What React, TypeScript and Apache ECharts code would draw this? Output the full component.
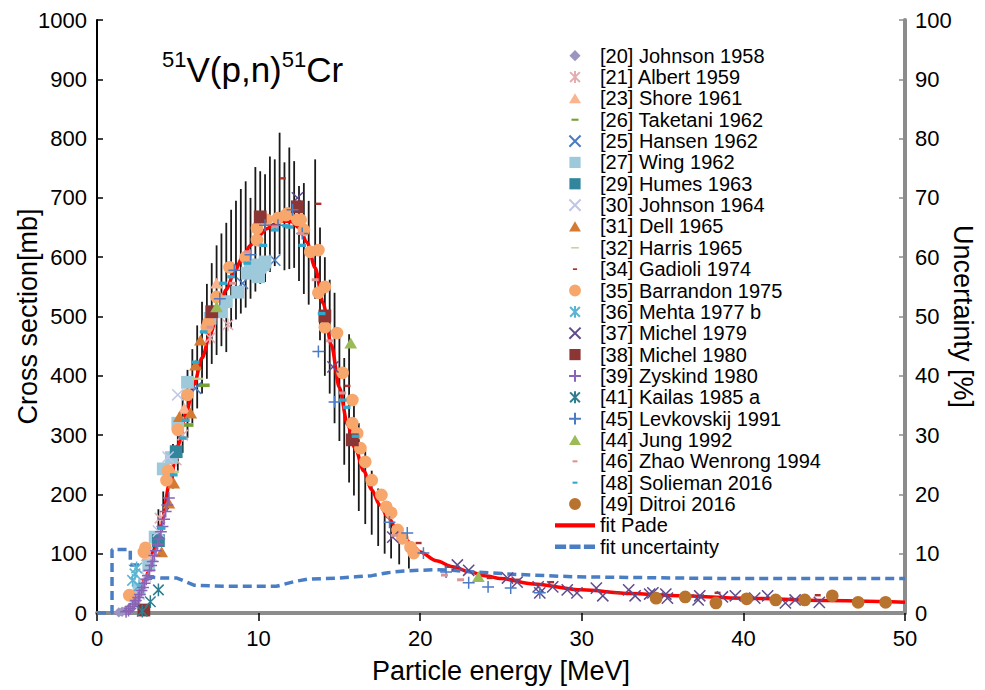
import React, { useEffect, useRef } from "react";
import * as echarts from "echarts";

const FONT = "'Liberation Sans', Arial, Helvetica, sans-serif";

// ---- data (energy MeV, cross section mb) ----
const johnson1958 = [[1.35, 1], [1.55, 2], [1.75, 4], [1.95, 7], [2.15, 12], [2.4, 19]];
const albert1959 = [[3.9, 160], [4.9, 258], [5.3, 300], [7.0, 464], [8.1, 486]];
const shore1961 = [[3.1, 96], [5.4, 345], [7.4, 556]];
const taketani1962 = [[5.6, 317], [6.6, 384]];
const hansen1962 = [[6.1, 379], [9.0, 556], [11.0, 595]];
const wing1962 = [[2.6, 40], [3.2, 80], [3.6, 128], [4.1, 243], [4.6, 262], [5.0, 320], [5.6, 389], [7.0, 497], [7.7, 508], [8.0, 525], [8.7, 541], [9.3, 573], [9.5, 587], [9.9, 573], [10.0, 567], [10.1, 583], [10.3, 587], [10.4, 592]];
const humes1963 = [[3.8, 122], [4.9, 272]];
const johnson1964 = [[2.2, 15], [2.6, 32], [3.0, 62], [3.4, 96], [3.8, 138], [4.4, 263], [5.0, 368]];
const dell1965 = [[4.0, 103], [4.45, 185], [4.75, 219], [5.1, 331], [5.8, 337], [6.1, 418], [6.4, 460]];
const harris1965 = [[4.7, 238], [6.2, 395]];
const gadioli1974 = [[11.5, 733], [13.7, 690], [15.5, 383], [19.9, 118], [21.7, 78], [24.3, 59], [26.0, 56], [28.1, 52], [32.2, 34], [38.4, 34], [44.6, 30]];
const barrandon1975 = [[2.0, 30], [2.9, 103], [3.0, 110], [4.3, 224], [4.4, 240], [5.0, 309], [5.6, 368], [6.8, 482], [6.9, 490], [7.4, 533], [8.2, 583], [9.2, 600], [9.9, 649], [9.9, 629], [10.5, 663], [11.2, 666], [11.7, 671], [11.8, 674], [12.4, 663], [12.6, 663], [12.8, 646], [13.2, 609], [13.7, 612], [13.7, 540], [14.1, 550], [14.1, 482], [14.85, 472], [15.2, 405], [15.8, 359], [15.8, 320], [16.1, 303], [16.3, 278], [16.6, 255], [17.0, 224], [17.6, 199], [17.9, 179], [18.2, 169], [18.6, 140], [18.9, 126], [19.4, 111], [19.6, 101]];
const mehta1977 = [[2.2, 55], [2.35, 66], [2.45, 76], [2.6, 46]];
const michel1979 = [[12.4, 700], [14.6, 415], [18.3, 128], [22.3, 81], [23.0, 72], [25.4, 59], [26.0, 52], [27.3, 44], [27.4, 34], [28.2, 44], [29.1, 39], [29.7, 34], [30.9, 42], [31.3, 29], [32.9, 39], [33.3, 29], [34.2, 32], [34.4, 34], [35.2, 32], [35.3, 25], [37.2, 22], [37.3, 29], [38.7, 27], [39.5, 29], [40.7, 25], [41.5, 29], [42.6, 17], [43.2, 22], [44.7, 18]];
const michel1980 = [[2.9, 5], [7.1, 508], [10.1, 668], [12.4, 685], [14.1, 501], [15.8, 292]];
const zyskind1980 = [[1.8, 2], [1.95, 4], [2.05, 7], [2.2, 11], [2.3, 15], [2.4, 21], [2.55, 26], [2.65, 31], [2.75, 38], [2.85, 43], [2.95, 50], [3.05, 57], [3.15, 63], [3.25, 72], [3.35, 80], [3.45, 87], [3.55, 97], [3.65, 105], [3.75, 116], [3.85, 125], [3.95, 137], [4.05, 146], [4.15, 158], [4.25, 171], [4.35, 182], [4.45, 194]];
const kailas1985 = [[2.8, 3], [3.3, 19], [3.8, 39]];
const levkovskij1991 = [[7.6, 530], [8.5, 578], [9.5, 604], [10.4, 654], [11.2, 654], [12.1, 680], [12.7, 640], [13.7, 441], [14.7, 356], [18.1, 153], [19.2, 135], [20.2, 101], [21.6, 69], [23.0, 51], [24.2, 44], [25.6, 42], [27.4, 34]];
const jung1992 = [[7.4, 516], [15.7, 455], [23.6, 61]];
const zhao1994 = [[5.4, 295], [7.0, 482], [8.4, 556], [9.3, 609], [10.2, 620], [11.0, 651], [11.9, 651], [12.6, 640], [13.5, 562], [14.4, 459], [15.2, 371], [18.4, 131], [21.5, 64], [22.5, 56]];
const solieman2016 = [[4.0, 143], [4.75, 233], [5.3, 295], [5.5, 325], [6.1, 423], [6.6, 474], [7.8, 556], [8.3, 567], [9.3, 590], [10.3, 620], [11.0, 646], [11.7, 653], [11.9, 651], [12.7, 620], [13.9, 505], [15.2, 359], [15.45, 347], [16.0, 298]];
const ditroi2016 = [[34.6, 25], [36.4, 27], [38.3, 17], [40.2, 24], [42.0, 22], [43.8, 22], [45.5, 29], [47.1, 18], [48.8, 18]];

// error bars: [energy, low, high]
const errorBars = [
  [3.5, 95, 135], [3.8, 125, 175], [4.1, 150, 205], [4.4, 175, 245], [4.7, 210, 285], [5.0, 240, 330], [5.3, 270, 370], [5.6, 295, 410], [5.9, 320, 445], [6.2, 345, 485], [6.5, 370, 525], [6.8, 395, 555], [7.1, 420, 590], [7.4, 435, 620], [7.7, 450, 640], [8.0, 440, 658], [8.3, 480, 680], [8.6, 495, 695], [8.9, 505, 715], [9.2, 515, 728], [9.5, 530, 700], [9.8, 542, 752], [10.1, 555, 745], [10.4, 558, 740], [10.7, 575, 770], [11.0, 585, 765], [11.3, 605, 810], [11.6, 578, 760], [11.9, 580, 785], [12.2, 582, 762], [12.5, 560, 720], [12.8, 538, 725], [13.1, 520, 695], [13.5, 530, 765], [13.8, 460, 650], [14.1, 400, 600], [14.4, 370, 562], [14.7, 320, 540], [15.0, 290, 465], [15.3, 250, 430], [15.6, 220, 470], [15.9, 198, 365], [16.2, 172, 320], [16.6, 150, 275], [17.0, 132, 240], [17.4, 113, 210], [17.8, 100, 180], [18.2, 92, 155], [18.7, 82, 132], [19.3, 75, 115],
];

const padeFit = [[1.6, 0], [2, 5], [2.5, 25], [3, 58], [3.5, 105], [4, 152], [4.5, 220], [5, 282], [5.5, 336], [6, 385], [6.5, 430], [7, 470], [7.5, 510], [8, 545], [8.5, 575], [9, 600], [9.5, 620], [10, 636], [10.5, 648], [11, 656], [11.5, 661], [12, 660], [12.5, 650], [13, 625], [13.5, 582], [14, 522], [14.5, 452], [15, 380], [15.5, 318], [16, 276], [16.5, 240], [17, 208], [17.5, 182], [18, 162], [18.5, 144], [19, 128], [19.5, 114], [20, 103], [21, 88], [22, 78], [23, 70], [24, 63], [25, 58], [27, 49], [30, 39], [33, 33], [36, 29], [40, 25], [45, 21], [50, 18]];

// uncertainty in %
const fitUncertainty = [[0, 0], [0.93, 0], [0.93, 10.7], [2.06, 10.7], [2.06, 8.1], [3.1, 8.1], [3.1, 6.1], [4.0, 5.9], [4.95, 5.9], [6.0, 4.7], [8, 4.5], [11.1, 4.5], [12.2, 5.3], [13, 5.7], [14, 5.8], [15, 5.9], [16, 6.1], [17, 6.3], [18, 6.8], [19, 7.1], [20, 7.2], [21, 7.3], [22, 7.2], [23.4, 6.9], [26, 6.5], [29.6, 6.1], [35.8, 5.9], [40, 5.8], [50, 5.8]];

// ---- symbol styles ----
const P = "path://M0 0M20 20";
const SYM = {
  diamond: P + "M10 2L18 10L10 18L2 10Z",
  triangle: P + "M10 2.5L18.5 17L1.5 17Z",
  square: P + "M2 2H18V18H2Z",
  circle: P + "M10 1.5A8.5 8.5 0 1 1 10 18.5A8.5 8.5 0 1 1 10 1.5Z",
  cross: P + "M2 2L18 18M18 2L2 18",
  plus: P + "M10 1.5V18.5M1.5 10H18.5",
  star: P + "M3 3L17 17M17 3L3 17M10 1.5V18.5",
  dashLong: P + "M5 8.5H15V11.5H5Z",
  dashThin: P + "M4.5 9H15.5V11H4.5Z",
  dashShort: P + "M7 8.8H13V11.2H7Z",
  dashMid: P + "M6.5 8.5H13.5V11.5H6.5Z",
};

type Def = { name: string; data: number[][]; sym: string; color: string; size: number; stroke?: boolean };
const defs: Def[] = [
  { name: "[20] Johnson 1958", data: johnson1958, sym: SYM.diamond, color: "#9d94c0", size: 13 },
  { name: "[21] Albert 1959", data: albert1959, sym: SYM.star, color: "#e4aeb0", size: 15, stroke: true },
  { name: "[23] Shore 1961", data: shore1961, sym: SYM.triangle, color: "#fab48e", size: 15 },
  { name: "[26] Taketani 1962", data: taketani1962, sym: SYM.dashLong, color: "#76a032", size: 24 },
  { name: "[25] Hansen 1962", data: hansen1962, sym: SYM.cross, color: "#4a7bc4", size: 14, stroke: true },
  { name: "[27] Wing 1962", data: wing1962, sym: SYM.square, color: "#9dc9da", size: 16 },
  { name: "[29] Humes 1963", data: humes1963, sym: SYM.square, color: "#31859c", size: 16 },
  { name: "[30] Johnson 1964", data: johnson1964, sym: SYM.cross, color: "#c2c6e6", size: 14, stroke: true },
  { name: "[31] Dell 1965", data: dell1965, sym: SYM.triangle, color: "#d47a32", size: 15 },
  { name: "[32] Harris 1965", data: harris1965, sym: SYM.dashThin, color: "#b8d18e", size: 22 },
  { name: "[34] Gadioli 1974", data: gadioli1974, sym: SYM.dashShort, color: "#b0302c", size: 20 },
  { name: "[35] Barrandon 1975", data: barrandon1975, sym: SYM.circle, color: "#f7a66c", size: 15 },
  { name: "[36] Mehta 1977 b", data: mehta1977, sym: SYM.star, color: "#5bb4d2", size: 15, stroke: true },
  { name: "[37] Michel 1979", data: michel1979, sym: SYM.cross, color: "#5f4b8b", size: 14, stroke: true },
  { name: "[38] Michel 1980", data: michel1980, sym: SYM.square, color: "#8b3535", size: 16 },
  { name: "[39] Zyskind 1980", data: zyskind1980, sym: SYM.plus, color: "#8a62b6", size: 14, stroke: true },
  { name: "[41] Kailas 1985 a", data: kailas1985, sym: SYM.star, color: "#2e7d90", size: 15, stroke: true },
  { name: "[45] Levkovskij 1991", data: levkovskij1991, sym: SYM.plus, color: "#4a7bc4", size: 14, stroke: true },
  { name: "[44] Jung 1992", data: jung1992, sym: SYM.triangle, color: "#9bbb59", size: 15 },
  { name: "[46] Zhao Wenrong 1994", data: zhao1994, sym: SYM.dashMid, color: "#d99596", size: 20 },
  { name: "[48] Solieman 2016", data: solieman2016, sym: SYM.dashMid, color: "#2fa8cc", size: 22 },
  { name: "[49] Ditroi 2016", data: ditroi2016, sym: SYM.circle, color: "#b8742f", size: 15 },
];

const xTicks = { min: 0, max: 50, interval: 10 };
const yLeft = { min: 0, max: 1000, interval: 100 };
const yRight = { min: 0, max: 100, interval: 10 };

export default function App() {
  const ref = useRef<HTMLDivElement>(null);
  useEffect(() => {
    document.body.style.margin = "0";
    document.body.style.overflow = "hidden";
    if (!ref.current) return;
    const chart = echarts.init(ref.current, null, { renderer: "svg" });
    const scatterSeries = defs.map((d) => ({
      name: d.name,
      type: "scatter",
      data: d.data,
      symbol: d.sym,
      symbolSize: d.size,
      z: 4,
      itemStyle: d.stroke
        ? { color: d.color, borderColor: d.color, borderWidth: 1.5, opacity: 1 }
        : { color: d.color, borderWidth: 0, opacity: 1 },
    }));
    const labelStyle = { color: "#000", fontFamily: FONT, fontSize: 22 };
    const titleStyle = { color: "#000", fontFamily: FONT, fontSize: 27 };
    const plain = (v: number) => String(v);
    chart.setOption({
      animation: false,
      backgroundColor: "#fff",
      textStyle: { fontFamily: FONT },
      grid: { left: 97, right: 80, top: 20, bottom: 77, containLabel: false, outerBoundsMode: "none" },
      legend: {
        orient: "vertical",
        left: 555,
        top: 45,
        padding: 0,
        itemGap: 0,
        itemWidth: 40,
        itemHeight: 14,
        selectedMode: false,
        textStyle: { fontFamily: FONT, fontSize: 20, color: "#000", lineHeight: 21.35 },
        data: [
          ...defs.map((d) => ({ name: d.name })),
          { name: "fit Pade", icon: "path://M0 0H40V4.4H0Z" },
          { name: "fit uncertainty", icon: "path://M0 0H10V4H0ZM13 0H23V4H13ZM26 0H36V4H26Z" },
        ],
      },
      xAxis: [
        {
          type: "value",
          ...xTicks,
          name: "Particle energy [MeV]",
          nameLocation: "middle",
          nameGap: 44,
          nameMoveOverlap: false,
          nameTextStyle: titleStyle,
          axisLine: { show: true, onZero: false, lineStyle: { color: "#000", width: 2 } },
          axisTick: { show: true, inside: false, length: 8, lineStyle: { color: "#000", width: 1.5 } },
          axisLabel: { ...labelStyle, margin: 14, formatter: plain },
          splitLine: { show: false },
        },
        {
          type: "value",
          position: "top",
          ...xTicks,
          axisLine: { show: true, lineStyle: { color: "#8c8c8c", width: 4 } },
          axisTick: { show: false },
          axisLabel: { show: false },
          splitLine: { show: false },
        },
      ],
      yAxis: [
        {
          type: "value",
          ...yLeft,
          name: "Cross section[mb]",
          nameLocation: "middle",
          nameRotate: 90,
          nameGap: 56,
          nameMoveOverlap: false,
          nameTextStyle: titleStyle,
          axisLine: { show: true, onZero: false, lineStyle: { color: "#000", width: 2 } },
          axisTick: { show: true, inside: true, length: 6, lineStyle: { color: "#000", width: 1.5 } },
          axisLabel: { ...labelStyle, margin: 10, formatter: plain },
          splitLine: { show: false },
        },
        {
          type: "value",
          position: "right",
          ...yRight,
          name: "Uncertainty [%]",
          nameLocation: "middle",
          nameRotate: -90,
          nameGap: 44,
          nameMoveOverlap: false,
          nameTextStyle: titleStyle,
          axisLine: { show: true, onZero: false, lineStyle: { color: "#8c8c8c", width: 4 } },
          axisTick: { show: true, inside: true, length: 6, lineStyle: { color: "#8c8c8c", width: 1.5 } },
          axisLabel: { ...labelStyle, margin: 10, formatter: plain },
          splitLine: { show: false },
        },
      ],
      graphic: [
        {
          type: "text",
          left: 162,
          top: 48,
          z: 10,
          style: {
            text: "{s|51}{m|V(p,n)}{s|51}{m|Cr}",
            fill: "#000",
            fontFamily: FONT,
            rich: {
              s: { fontSize: 22, fontFamily: FONT, lineHeight: 22, verticalAlign: "top", fill: "#000" },
              m: { fontSize: 35, fontFamily: FONT, lineHeight: 39, verticalAlign: "bottom", fill: "#000" },
            },
          },
        },
      ],
      series: [
        {
          name: "errorbars",
          type: "custom",
          z: 1,
          silent: true,
          data: errorBars,
          renderItem: (params: any, api: any) => {
            const x = api.value(0);
            const lo = api.coord([x, api.value(1)]);
            const hi = api.coord([x, api.value(2)]);
            return {
              type: "line",
              shape: { x1: lo[0], y1: lo[1], x2: hi[0], y2: hi[1] },
              style: { stroke: "#1a1a1a", lineWidth: 1.8 },
            };
          },
        },
        {
          name: "fit Pade",
          type: "line",
          data: padeFit,
          symbol: "none",
          smooth: 0.3,
          smoothMonotone: "x",
          z: 3,
          itemStyle: { color: "#ff0000" },
          lineStyle: { color: "#ff0000", width: 3.5 },
        },
        {
          name: "fit uncertainty",
          type: "line",
          yAxisIndex: 1,
          data: fitUncertainty,
          symbol: "none",
          z: 3,
          itemStyle: { color: "#4a7ec4" },
          lineStyle: { color: "#4a7ec4", width: 3.5, type: [9, 5] },
        },
        ...scatterSeries,
      ],
    });
    return () => chart.dispose();
  }, []);
  return <div ref={ref} style={{ width: 985, height: 690, display: "block" }} />;
}
